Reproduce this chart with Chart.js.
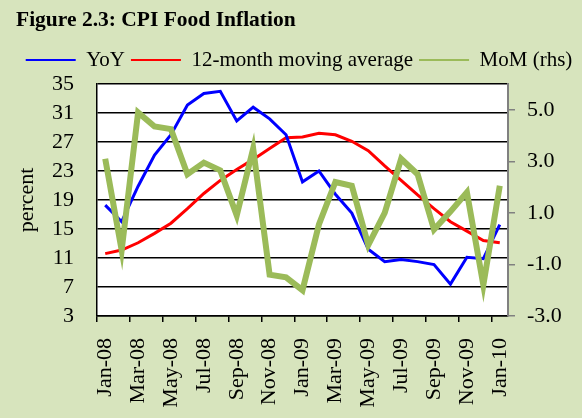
<!doctype html>
<html lang="en">
  <head>
    <meta charset="UTF-8" />
    <title>CPI Food Inflation</title>
    <style>
      html, body { margin: 0; padding: 0; background: #d7e4bd; }
      canvas { display: block; }
    </style>
  </head>
  <body>
    <canvas id="cpiChart" width="582" height="418"></canvas>
    <script src="https://cdn.jsdelivr.net/npm/chart.js"></script>
    <script>
      const months = [
        "Jan-08", "Feb-08", "Mar-08", "Apr-08", "May-08", "Jun-08", "Jul-08", "Aug-08", "Sep-08",
        "Oct-08", "Nov-08", "Dec-08", "Jan-09", "Feb-09", "Mar-09", "Apr-09", "May-09", "Jun-09",
        "Jul-09", "Aug-09", "Sep-09", "Oct-09", "Nov-09", "Dec-09", "Jan-10"
      ];
      const yoy = [18.3, 16.0, 20.9, 25.2, 28.0, 32.1, 33.7, 34.0, 29.9, 31.8, 30.2, 28.0, 21.5,
        23.0, 19.8, 17.2, 12.2, 10.5, 10.8, 10.5, 10.1, 7.4, 11.1, 10.9, 15.6];
      const movingAvg = [11.6, 12.1, 13.1, 14.4, 15.8, 17.8, 19.9, 21.7, 23.2, 24.6, 26.1, 27.6, 27.7,
        28.2, 28.0, 27.1, 25.8, 23.7, 21.7, 19.7, 17.8, 16.0, 14.7, 13.4, 13.1];
      const mom = [3.1, -0.45, 4.9, 4.35, 4.25, 2.5, 2.95, 2.65, 0.9, 3.5, -1.4, -1.5, -2.0,
        0.55, 2.2, 2.05, -0.25, 1.0, 3.1, 2.5, 0.35, 1.05, 1.8, -1.8, 2.05];
      const lhsTicks = [3, 7, 11, 15, 19, 23, 27, 31, 35];
      const rhsTicks = [-3, -1, 1, 3, 5];

      Chart.defaults.font.family = "'Liberation Serif', 'Times New Roman', serif";
      Chart.defaults.color = "#000";

      // page and plot backgrounds
      const backgrounds = {
        id: "backgrounds",
        beforeDraw(chart) {
          const { ctx, chartArea: a } = chart;
          ctx.save();
          ctx.fillStyle = "#d7e4bd";
          ctx.fillRect(0, 0, chart.width, chart.height);
          ctx.fillStyle = "#ffffff";
          ctx.fillRect(a.left, a.top, a.right - a.left, a.bottom - a.top);
          ctx.restore();
        },
      };

      const ctx = document.getElementById("cpiChart").getContext("2d");
      new Chart(ctx, {
        type: "line",
        data: {
          labels: months,
          datasets: [
            { label: "YoY", data: yoy, borderColor: "#0000ff", borderWidth: 3, yAxisID: "y", order: 1 },
            { label: "12-month moving average", data: movingAvg, borderColor: "#ff0000", borderWidth: 3, yAxisID: "y", order: 2 },
            { label: "MoM (rhs)", data: mom, borderColor: "#9bbb59", borderWidth: 6, yAxisID: "y2", order: 0 },
          ],
        },
        options: {
          responsive: false,
          animation: false,
          devicePixelRatio: 1,
          elements: { point: { radius: 0 }, line: { tension: 0 } },
          layout: { padding: { left: 16, right: 0, top: 0, bottom: 0 } },
          plugins: {
            tooltip: { enabled: false },
            title: {
              display: true,
              text: "Figure 2.3: CPI Food Inflation",
              align: "start",
              color: "#000",
              font: { size: 21.5, weight: "bold" },
              padding: { top: 8, bottom: 9.7 },
            },
            legend: {
              display: true,
              labels: {
                font: { size: 21 },
                boxWidth: 50,
                boxHeight: 2,
                padding: 6,
                generateLabels(chart) {
                  return chart.data.datasets.map((ds, i) => ({
                    text: ds.label,
                    fillStyle: ds.borderColor,
                    strokeStyle: ds.borderColor,
                    lineWidth: 0,
                    datasetIndex: i,
                  }));
                },
              },
            },
          },
          scales: {
            x: {
              type: "category",
              offset: true,
              grid: {
                offset: true,
                drawOnChartArea: false,
                tickLength: 6,
                lineWidth: 1.5,
                color: (c) => (c.index % 2 === 0 ? "#000" : "rgba(0,0,0,0)"),
              },
              border: { color: "#000", width: 1.5 },
              ticks: {
                autoSkip: false,
                maxRotation: 90,
                minRotation: 90,
                padding: 16,
                font: { size: 22 },
                callback: (v, i) => (i % 2 === 0 ? months[i] : ""),
              },
              afterFit: (s) => { s.height = 102; },
            },
            xTop: {
              type: "category",
              position: "top",
              grid: { display: false },
              border: { display: false },
              ticks: { display: false },
              afterFit: (s) => { s.height = 3.5; },
            },
            y: {
              position: "left",
              min: 3,
              max: 35,
              afterBuildTicks: (s) => { s.ticks = lhsTicks.map((v) => ({ value: v })); },
              ticks: { autoSkip: false, padding: 23, font: { size: 22 } },
              grid: { color: "#000", lineWidth: 1.5, drawTicks: false },
              border: { color: "#000", width: 1.5 },
              title: {
                display: true,
                text: "percent",
                font: { size: 22, lineHeight: 0.8 },
                padding: { top: 2, bottom: 0 },
              },
              afterFit: (s) => { s.width = 81; },
            },
            y2: {
              position: "right",
              min: -3,
              max: 6,
              afterBuildTicks: (s) => { s.ticks = rhsTicks.map((v) => ({ value: v })); },
              ticks: { autoSkip: false, padding: 12, font: { size: 22 }, callback: (v) => Number(v).toFixed(1) },
              grid: { drawOnChartArea: false, color: "#808080", lineWidth: 1.5, tickLength: 7 },
              border: { color: "#808080", width: 2 },
              afterFit: (s) => { s.width = 74; },
            },
          },
        },
        plugins: [backgrounds],
      });
    </script>
  </body>
</html>
